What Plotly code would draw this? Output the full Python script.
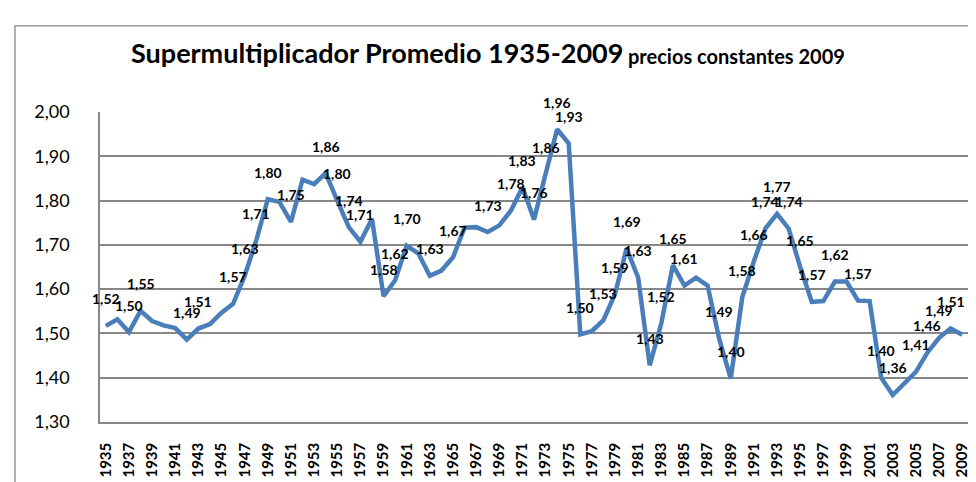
import plotly.graph_objects as go

years = list(range(1935, 2010))
values = [
    1.517, 1.532, 1.503, 1.551, 1.528, 1.518, 1.512, 1.486, 1.511, 1.521,  # 1935-1944
    1.547, 1.567, 1.630, 1.710, 1.803, 1.797, 1.752, 1.847, 1.837, 1.862,  # 1945-1954
    1.800, 1.740, 1.707, 1.759, 1.584, 1.620, 1.698, 1.681, 1.630, 1.642,  # 1955-1964
    1.672, 1.739, 1.740, 1.729, 1.744, 1.777, 1.830, 1.757, 1.860, 1.961,  # 1965-1974
    1.929, 1.498, 1.505, 1.530, 1.589, 1.692, 1.626, 1.428, 1.523, 1.654,  # 1975-1984
    1.608, 1.626, 1.608, 1.488, 1.398, 1.582, 1.663, 1.737, 1.770, 1.737,  # 1985-1994
    1.650, 1.571, 1.573, 1.617, 1.617, 1.574, 1.573, 1.400, 1.361, 1.387,  # 1995-2004
    1.413, 1.457, 1.490, 1.511, 1.497,                                     # 2005-2009
]
labeled_years = [
    1935, 1937, 1938, 1942, 1943, 1946, 1947, 1948, 1949, 1951, 1954, 1955,
    1956, 1957, 1959, 1960, 1961, 1963, 1965, 1968, 1970, 1971, 1972, 1973,
    1974, 1975, 1976, 1978, 1979, 1980, 1981, 1982, 1983, 1984, 1985, 1988,
    1989, 1990, 1991, 1992, 1993, 1994, 1995, 1996, 1998, 2000, 2002, 2003,
    2005, 2006, 2007, 2008,
]
y_ticks = [1.30, 1.40, 1.50, 1.60, 1.70, 1.80, 1.90, 2.00]
y_ticktext = ["1,30", "1,40", "1,50", "1,60", "1,70", "1,80", "1,90", "2,00"]
x_ticks = list(range(1935, 2010, 2))

title_main = "Supermultiplicador Promedio 1935-2009"
title_sub = "precios constantes 2009"

W, H = 976, 482
L, R, T, B = 92, 16, 104, 61
pw, ph = W - L - R, H - T - B

def px2x(px):
    return (px - L) / pw

def py2y(py):
    return (H - B - py) / ph

FONT = "Lato, 'Open Sans', sans-serif"
GRID = "#878787"

fig = go.Figure()
fig.add_trace(go.Scatter(
    x=years, y=values, mode="lines",
    line=dict(color="#4A7EBB", width=4.5),
    hoverinfo="skip", showlegend=False,
))

annotations = []
for yr, v in zip(years, values):
    if yr in labeled_years:
        annotations.append(dict(
            x=yr, y=v, xref="x", yref="y",
            text="<b>" + f"{v:.2f}".replace(".", ",") + "</b>",
            showarrow=False, yshift=27, xanchor="center", yanchor="middle",
            font=dict(family=FONT, size=14, color="#000000"),
        ))

annotations.append(dict(
    x=px2x(616), y=py2y(61), xref="paper", yref="paper",
    text="<b>" + title_main + "</b>", showarrow=False,
    xanchor="right", yanchor="bottom", borderpad=0,
    font=dict(family=FONT, size=27, color="#000000"),
))
annotations.append(dict(
    x=px2x(619), y=py2y(60), xref="paper", yref="paper",
    text="<b>" + title_sub + "</b>", showarrow=False,
    xanchor="left", yanchor="bottom", borderpad=0,
    font=dict(family=FONT, size=20, color="#000000"),
))

shapes = [dict(
    type="rect", xref="paper", yref="paper",
    x0=px2x(7), x1=px2x(1000), y0=py2y(520), y1=py2y(16),
    line=dict(color="#868686", width=1.3), fillcolor="rgba(0,0,0,0)", layer="below",
)]

fig.update_layout(
    width=W, height=H,
    margin=dict(l=L, r=R, t=T, b=B, pad=0),
    paper_bgcolor="white", plot_bgcolor="white",
    annotations=annotations, shapes=shapes,
    xaxis=dict(
        range=[1934.5, 2009.5], tickmode="array", tickvals=x_ticks,
        ticktext=["<b>%d</b>" % y for y in x_ticks], tickangle=-90,
        showgrid=False, zeroline=False, showline=True, linecolor=GRID, linewidth=1.5,
        ticks="", ticklabelstandoff=13,
        tickfont=dict(family=FONT, size=15, color="#000000"),
    ),
    yaxis=dict(
        range=[1.30, 2.00], tickmode="array", tickvals=y_ticks, ticktext=y_ticktext,
        showgrid=True, gridcolor=GRID, gridwidth=1.5, zeroline=False,
        showline=True, linecolor=GRID, linewidth=1.5, mirror=False,
        ticks="", ticklabelstandoff=25,
        tickfont=dict(family=FONT, size=18, color="#000000"),
    ),
)
fig.write_html("out.html")
